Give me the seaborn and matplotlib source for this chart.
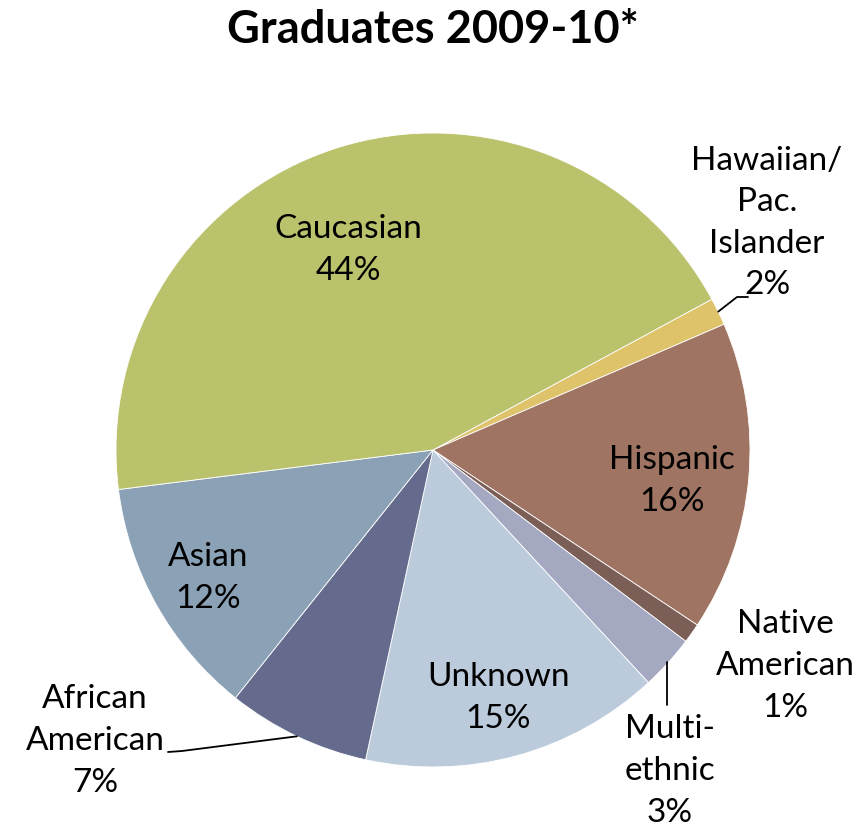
import numpy as np
import matplotlib
matplotlib.use("Agg")
from matplotlib import pyplot as plt
import seaborn as sns

# data, clockwise from the Hawaiian slice
groups = ["Hawaiian/\nPac.\nIslander", "Hispanic", "Native\nAmerican", "Multi-\nethnic",
          "Unknown", "African\nAmerican", "Asian", "Caucasian"]
shares = [1.4, 15.8, 1.0, 2.8, 15.3, 7.3, 12.3, 44.1]   # slice sizes as drawn
pct_labels = [2, 16, 1, 3, 15, 7, 12, 44]               # printed percentages
colors = ["#DEC36B", "#A07462", "#7B5E55", "#A4A8C0",
          "#BBCBDC", "#646B8D", "#8BA2B6", "#BBC26C"]

sns.set_theme(style="white")
plt.rcParams['font.family'] = ['Lato', 'DejaVu Sans']

W, H = 865, 831
fig = plt.figure(figsize=(W / 100, H / 100), dpi=100)
ax = fig.add_axes([0, 0, 1, 1])

cx, cy, R = 433, H - 450, 317
wedges, _ = ax.pie(shares, colors=colors, startangle=28.4, counterclock=False,
                   center=(cx, cy), radius=R,
                   wedgeprops=dict(edgecolor="white", linewidth=0.6))
ax.set_xlim(0, W)
ax.set_ylim(0, H)
ax.set_aspect('equal')
ax.axis('off')

# label centres in pixels (measured from the top)
label_pos = {
    "Hawaiian/\nPac.\nIslander": (767, 223),
    "Hispanic": (672, 481),
    "Native\nAmerican": (785, 666),
    "Multi-\nethnic": (670, 771),
    "Unknown": (498, 698),
    "African\nAmerican": (95, 741),
    "Asian": (208, 578),
    "Caucasian": (348, 250),
}

for g, p in zip(groups, pct_labels):
    x, y = label_pos[g]
    ax.text(x, H - y, f"{g}\n{p}%", ha="center", va="center", fontsize=24,
            linespacing=1.48, color="black")

# leader lines
def edge_point(w):
    t = np.deg2rad((w.theta1 + w.theta2) / 2)
    return cx + R * np.cos(t), cy + R * np.sin(t)

ex, ey = edge_point(wedges[0])
ax.plot([ex, 737, 748], [ey, H - 297, H - 297], color="black", lw=1.3)
ax.plot([667, 667], [H - 662, H - 705], color="black", lw=1.3)
ex, ey = edge_point(wedges[5])
ax.plot([168, 182, ex], [H - 752, H - 751, ey], color="black", lw=1.3)

ax.text(W / 2, H - 30, "Graduates 2009-10*", ha="center", va="center",
        fontsize=32.5, fontweight="bold", color="black")

fig.savefig("out.png", dpi=100)
